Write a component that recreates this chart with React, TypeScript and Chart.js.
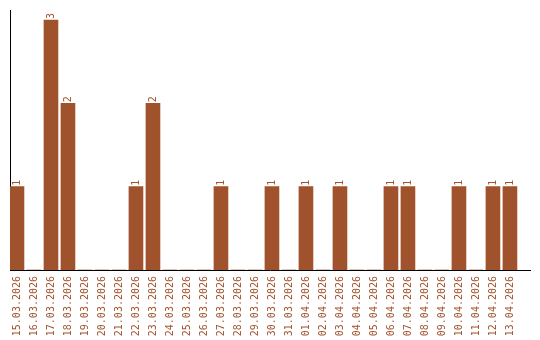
import React, { useEffect, useRef } from "react";
import { Chart, registerables } from "chart.js";

Chart.register(...registerables);

const dates = [
  "15.03.2026", "16.03.2026", "17.03.2026", "18.03.2026", "19.03.2026",
  "20.03.2026", "21.03.2026", "22.03.2026", "23.03.2026", "24.03.2026",
  "25.03.2026", "26.03.2026", "27.03.2026", "28.03.2026", "29.03.2026",
  "30.03.2026", "31.03.2026", "01.04.2026", "02.04.2026", "03.04.2026",
  "04.04.2026", "05.04.2026", "06.04.2026", "07.04.2026", "08.04.2026",
  "09.04.2026", "10.04.2026", "11.04.2026", "12.04.2026", "13.04.2026",
];
const counts = [
  1, 0, 3, 2, 0, 0, 0, 1, 2, 0,
  0, 0, 1, 0, 0, 1, 0, 1, 0, 1,
  0, 0, 1, 1, 0, 0, 1, 0, 1, 1,
];

const BROWN = "#A0522D";
const FONT = "'DejaVu Sans Mono', monospace";

const valueLabels = {
  id: "valueLabels",
  afterDatasetsDraw(chart: any) {
    const ctx = chart.ctx;
    const meta = chart.getDatasetMeta(0);
    ctx.save();
    ctx.fillStyle = BROWN;
    ctx.font = `10px ${FONT}`;
    ctx.textAlign = "left";
    ctx.textBaseline = "middle";
    meta.data.forEach((el: any, i: number) => {
      const v = counts[i];
      if (!v) return;
      ctx.save();
      ctx.translate(el.x, el.y - 1);
      ctx.rotate(-Math.PI / 2);
      ctx.fillText(String(v), 0, 0);
      ctx.restore();
    });
    ctx.restore();
  },
};

export default function App() {
  const ref = useRef<HTMLCanvasElement>(null);
  useEffect(() => {
    document.body.style.margin = "0";
    const chart = new Chart(ref.current!, {
      type: "bar",
      data: {
        datasets: [
          {
            data: counts.map((v, i) => ({ x: i, y: v })),
            backgroundColor: BROWN,
            barThickness: 14,
          },
        ],
      },
      options: {
        animation: false,
        responsive: false,
        layout: { padding: { top: 10, left: 10, right: 10, bottom: 0 } },
        plugins: { legend: { display: false }, tooltip: { enabled: false } },
        scales: {
          x: {
            type: "linear",
            offset: false,
            min: -0.41,
            max: 30.18,
            grid: { display: false, drawTicks: false },
            border: { display: true, color: "#000", width: 1 },
            afterBuildTicks: (scale: any) => {
              scale.ticks = dates.map((_, i) => ({ value: i }));
            },
            afterFit: (scale: any) => {
              scale.height = 70;
            },
            ticks: {
              autoSkip: false,
              maxRotation: 90,
              minRotation: 90,
              padding: 6,
              color: BROWN,
              font: { family: FONT, size: 10 },
              callback: (v: any) => dates[v] ?? "",
            },
          },
          y: {
            min: 0,
            max: 3.12,
            grid: { display: false, drawTicks: false },
            border: { display: true, color: "#000", width: 1 },
            ticks: { display: false },
            afterFit: (scale: any) => {
              scale.width = 0;
            },
          },
        },
      },
      plugins: [valueLabels],
    });
    return () => chart.destroy();
  }, []);
  return <canvas ref={ref} width={540} height={340} style={{ display: "block" }} />;
}
